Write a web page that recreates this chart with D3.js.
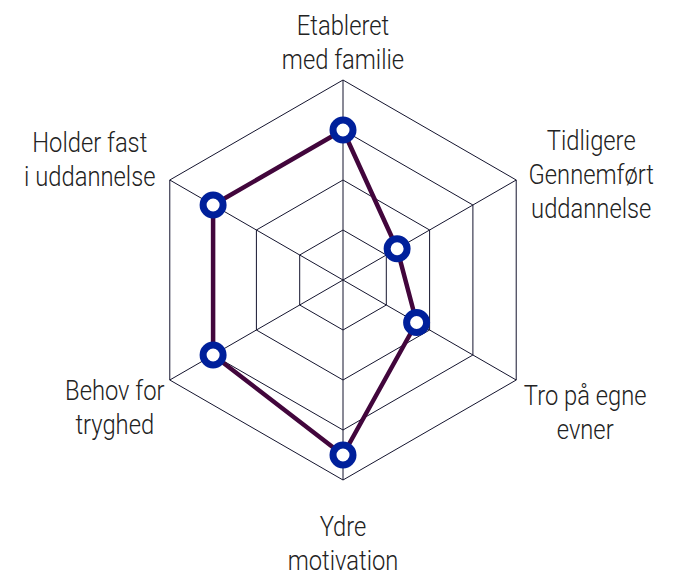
<!DOCTYPE html>
<html>
<head>
<meta charset="utf-8">
<script src="https://cdn.jsdelivr.net/npm/d3@7"></script>
<style>
  html, body { margin: 0; padding: 0; background: #fff; }
  svg { display: block; }
</style>
</head>
<body>
<div id="chart"></div>
<script>
// --- DATA ---
const axes = [
  ["Etableret", "med familie"],
  ["Tidligere", "Gennemført", "uddannelse"],
  ["Tro på egne", "evner"],
  ["Ydre", "motivation"],
  ["Behov for", "tryghed"],
  ["Holder fast", "i uddannelse"]
];
const values = [3, 1.25, 1.7, 3.5, 3, 3];
const gridLevels = [1, 2, 3, 4];

// label nudges relative to each outer vertex (layout only)
const labelOffsets = [[0, -45], [75, -30], [69, 25], [0, 56], [-55, 20], [-80, -28]];

// --- DRAW ---
const width = 677, height = 575;
const cx = 343, cy = 280, radius = 200;

const svg = d3.select("#chart").append("svg")
    .attr("width", width).attr("height", height);

const r = d3.scaleLinear().domain([0, 4]).range([0, radius]);
const angle = i => i * 2 * Math.PI / axes.length;   // 0 = straight up, clockwise
const point = (i, v) => [cx + r(v) * Math.sin(angle(i)), cy - r(v) * Math.cos(angle(i))];

const g = svg.append("g");

// grid hexagons
g.selectAll("polygon.grid")
  .data(gridLevels)
  .join("polygon")
    .attr("class", "grid")
    .attr("points", lv => axes.map((a, i) => point(i, lv).join(",")).join(" "))
    .attr("fill", "none")
    .attr("stroke", "#14142e")
    .attr("stroke-width", 1);

// spokes
g.selectAll("line.spoke")
  .data(axes)
  .join("line")
    .attr("class", "spoke")
    .attr("x1", cx).attr("y1", cy)
    .attr("x2", (d, i) => point(i, 4)[0])
    .attr("y2", (d, i) => point(i, 4)[1])
    .attr("stroke", "#14142e")
    .attr("stroke-width", 1);

// data polygon
const line = d3.line().curve(d3.curveLinearClosed);
g.append("path")
    .attr("d", line(values.map((v, i) => point(i, v))))
    .attr("fill", "none")
    .attr("stroke", "#42063c")
    .attr("stroke-width", 4.5)
    .attr("stroke-linejoin", "round");

// markers
g.selectAll("circle.marker")
  .data(values)
  .join("circle")
    .attr("class", "marker")
    .attr("cx", (v, i) => point(i, v)[0])
    .attr("cy", (v, i) => point(i, v)[1])
    .attr("r", 10)
    .attr("fill", "#fff")
    .attr("stroke", "#00209b")
    .attr("stroke-width", 7);

// axis labels (thin, condensed look)
const labels = svg.append("g")
    .attr("text-anchor", "middle")
    .style("font-family", "Roboto, 'Noto Sans', sans-serif")
    .style("font-weight", 300)
    .style("font-size", "27px")
    .attr("fill", "#222");

labels.selectAll("text")
  .data(axes)
  .join("text")
    .attr("transform", (d, i) => {
      const p = point(i, 4);
      return `translate(${p[0] + labelOffsets[i][0]},${p[1] + labelOffsets[i][1]}) scale(0.88,1)`;
    })
    .each(function(d) {
      const t = d3.select(this);
      d.forEach((s, k) => {
        t.append("tspan").attr("x", 0).attr("dy", k === 0 ? 0 : 34).text(s);
      });
    });
</script>
</body>
</html>
